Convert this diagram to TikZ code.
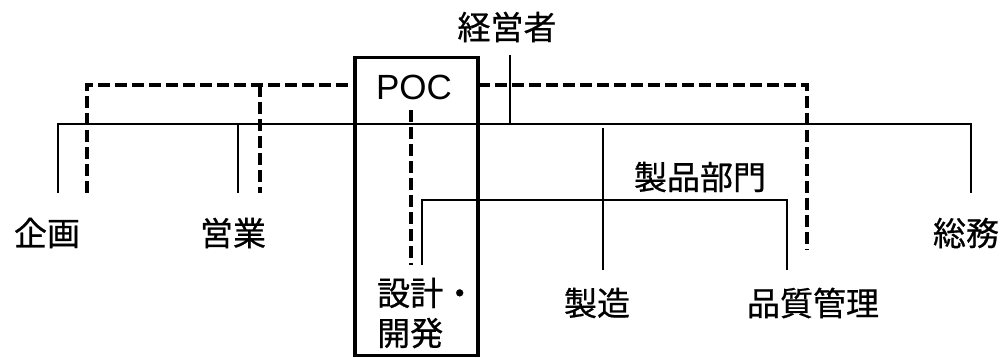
\documentclass[tikz,border=0pt]{standalone}
\usepackage{fontspec}
\setmainfont{Liberation Sans}
\newfontfamily\jp[FakeBold=0.6]{Noto Sans CJK JP}
\begin{document}
\begin{tikzpicture}[x=1pt,y=-1pt,
  lbl/.style={font=\jp\fontsize{33}{40}\selectfont, inner sep=0pt},
  thinln/.style={line width=2pt},
  dsh/.style={line width=3.6pt, dash pattern=on 12pt off 5pt},
  pocbox/.style={draw, line width=3.2pt, outer sep=0pt, inner sep=0pt}]
\useasboundingbox (0,0) rectangle (1003,358);
\fill[white] (0,0) rectangle (1003,358);
% box
\node[pocbox, minimum width=123pt, minimum height=298pt] (box) at (416.5,206.5) {};
% labels
\node[lbl] (ceo) at (507,27) {経営者};
\node[lbl] (kikaku) at (47,233) {企画};
\node[lbl] (eigyo) at (233,233) {営業};
\node[lbl] (somu) at (966,233) {総務};
\node[lbl] (seizo) at (597,303) {製造};
\node[lbl] (hinshitsu) at (813,303) {品質管理};
\node[lbl] (seihin) at (700,177) {製品部門};
\node[lbl, align=left, anchor=west] (sekkei) at (377,313) {設計・\\開発};
\node[font=\fontsize{35}{36}\selectfont, inner sep=0pt] (poc) at (414,87) {POC};
% coordinates
\coordinate (top) at (510,55);
\coordinate (hub) at (510,124);
\coordinate (lend) at (58,193);
\coordinate (lcorner) at (58,124);
\coordinate (eigyotop) at (238,124);
\coordinate (eigyobot) at (238,193);
\coordinate (rcorner) at (971,124);
\coordinate (rend) at (971,193);
\coordinate (seizotop) at (603,128);
\coordinate (seizobot) at (603,270);
\coordinate (pl) at (422,200);
\coordinate (plbot) at (422,265);
\coordinate (pr) at (787,200);
\coordinate (prbot) at (787,270);
\coordinate (d1bot) at (87,193);
\coordinate (d1top) at (87,85);
\coordinate (d2top) at (260,85);
\coordinate (d2bot) at (260,193);
\coordinate (d3corner) at (807,85);
\coordinate (d3bot) at (807,250);
\coordinate (d4top) at (411,110);
\coordinate (d4bot) at (411,265);
% solid tree
\draw[thinln] (top) -- (hub);
\draw[thinln] (lend) -- (lcorner) -- (rcorner) -- (rend);
\draw[thinln] (eigyotop) -- (eigyobot);
\draw[thinln] (seizotop) -- (seizobot);
\draw[thinln] (plbot) -- (pl) -- (pr) -- (prbot);
% dashed
\draw[dsh] (d1bot) -- (d1top) -- (d1top -| box.west);
\draw[dsh] (d2top) -- (d2bot);
\draw[dsh] (d1top -| box.east) -- (d3corner) -- (d3bot);
\draw[dsh] (d4top) -- (d4bot);
\end{tikzpicture}
\end{document}
